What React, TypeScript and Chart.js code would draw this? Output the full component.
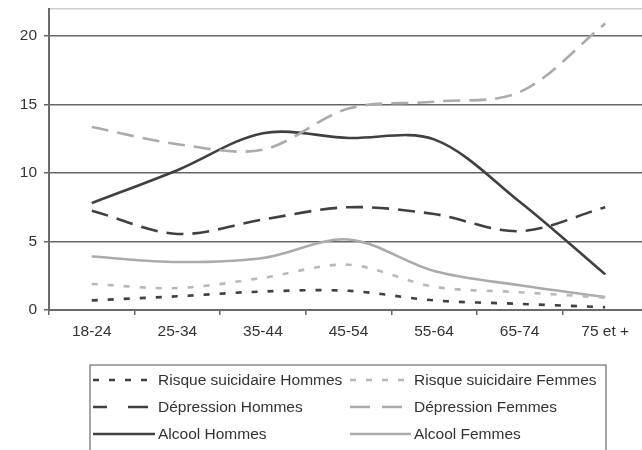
import { useEffect, useRef } from 'react';
import { Chart, registerables } from 'chart.js';

Chart.register(...registerables);

const categories = ['18-24', '25-34', '35-44', '45-54', '55-64', '65-74', '75 et +'];
const risqueHommes = [0.7, 1.0, 1.35, 1.4, 0.7, 0.45, 0.2];
const risqueFemmes = [1.9, 1.6, 2.35, 3.3, 1.7, 1.3, 0.9];
const depressionHommes = [7.25, 5.55, 6.6, 7.5, 7.0, 5.75, 7.5];
const depressionFemmes = [13.35, 12.1, 11.7, 14.7, 15.2, 15.9, 20.9];
const alcoolHommes = [7.8, 10.2, 12.9, 12.55, 12.45, 7.9, 2.6];
const alcoolFemmes = [3.9, 3.5, 3.8, 5.15, 2.85, 1.8, 0.95];
const yTicks = [0, 5, 10, 15, 20];
const yMax = 22;

const FONT = '"Liberation Sans", Arial, sans-serif';
const DARK = '#404040';
const LIGHT = '#ababab';

const boxLegend = {
  id: 'boxLegend',
  afterDraw(chart: any) {
    const ctx = chart.ctx as CanvasRenderingContext2D;
    ctx.save();
    ctx.strokeStyle = '#8a8a8a';
    ctx.lineWidth = 1.5;
    ctx.strokeRect(90, 365, 516, 120);
    const rows = [380, 407, 434];
    const cols = [
      { x1: 93, x2: 155, tx: 158 },
      { x1: 350, x2: 411, tx: 414 },
    ];
    chart.data.datasets.forEach((ds: any, i: number) => {
      const col = cols[i % 2];
      const y = rows[Math.floor(i / 2)];
      ctx.beginPath();
      ctx.setLineDash(ds.legendDash || ds.borderDash || []);
      ctx.strokeStyle = ds.borderColor;
      ctx.lineWidth = ds.borderWidth;
      ctx.moveTo(col.x1, y);
      ctx.lineTo(col.x2, y);
      ctx.stroke();
      ctx.setLineDash([]);
      ctx.fillStyle = '#333';
      ctx.font = `15.5px ${FONT}`;
      ctx.textBaseline = 'middle';
      ctx.textAlign = 'left';
      ctx.fillText(ds.label, col.tx, y + 1);
    });
    ctx.restore();
  },
};

export default function App() {
  const ref = useRef<HTMLCanvasElement | null>(null);

  useEffect(() => {
    document.documentElement.style.overflow = 'hidden';
    document.body.style.overflow = 'hidden';
    const canvas = ref.current;
    if (!canvas) return;
    const mk = (label: string, data: number[], color: string, dash: number[], legendDash?: number[]) => ({
      label,
      data,
      borderColor: color,
      backgroundColor: color,
      borderWidth: 2.6,
      borderDash: dash,
      legendDash,
      pointRadius: 0,
      tension: 0.33,
      fill: false,
    });
    const chart = new Chart(canvas, {
      type: 'line',
      data: {
        labels: categories,
        datasets: [
          mk('Risque suicidaire Hommes', risqueHommes, DARK, [6, 10]),
          mk('Risque suicidaire Femmes', risqueFemmes, '#b8b8b8', [6, 10]),
          mk('Dépression Hommes', depressionHommes, DARK, [17, 9], [14, 21, 20, 60]),
          mk('Dépression Femmes', depressionFemmes, LIGHT, [17, 9], [20, 12, 20, 60]),
          mk('Alcool Hommes', alcoolHommes, DARK, []),
          mk('Alcool Femmes', alcoolFemmes, LIGHT, []),
        ] as any,
      },
      options: {
        animation: false,
        responsive: false,
        layout: { padding: { top: 8.5, right: 12, bottom: 0, left: 0 } },
        plugins: { legend: { display: false }, tooltip: { enabled: false } },
        scales: {
          x: {
            offset: true,
            grid: { offset: true, drawOnChartArea: false, drawTicks: true, tickLength: 5, color: '#666', lineWidth: 1.5 },
            border: { color: '#6a6a6a', width: 2 },
            ticks: { color: '#333', font: { size: 15.5, family: FONT }, padding: 7, maxRotation: 0, autoSkip: false },
            afterFit: (s: any) => {
              s.height = 140;
              s.paddingLeft = 0;
              s.paddingRight = 0;
            },
          },
          y: {
            min: 0,
            max: yMax,
            afterBuildTicks: (s: any) => {
              s.ticks = [...yTicks, yMax].map((v) => ({ value: v }));
            },
            afterFit: (s: any) => {
              s.width = 49;
              s.paddingTop = 0;
              s.paddingBottom = 0;
            },
            ticks: {
              color: '#333',
              font: { size: 15.5, family: FONT },
              padding: 7,
              callback: (v: any) => (yTicks.includes(Number(v)) ? String(v) : ''),
            },
            grid: {
              color: (c: any) => (c.tick && c.tick.value === yMax ? '#cfcfcf' : '#666'),
              tickColor: (c: any) => (c.tick && c.tick.value === yMax ? 'rgba(0,0,0,0)' : '#666'),
              lineWidth: 1.5,
              tickLength: 5,
            },
            border: { color: '#6a6a6a', width: 2 },
          },
        },
      },
      plugins: [boxLegend],
    });
    return () => chart.destroy();
  }, []);

  return (
    <div style={{ position: 'fixed', left: 0, top: 0, width: 660, height: 450, background: '#fff' }}>
      <canvas ref={ref} width={660} height={450} style={{ display: 'block' }} />
    </div>
  );
}
